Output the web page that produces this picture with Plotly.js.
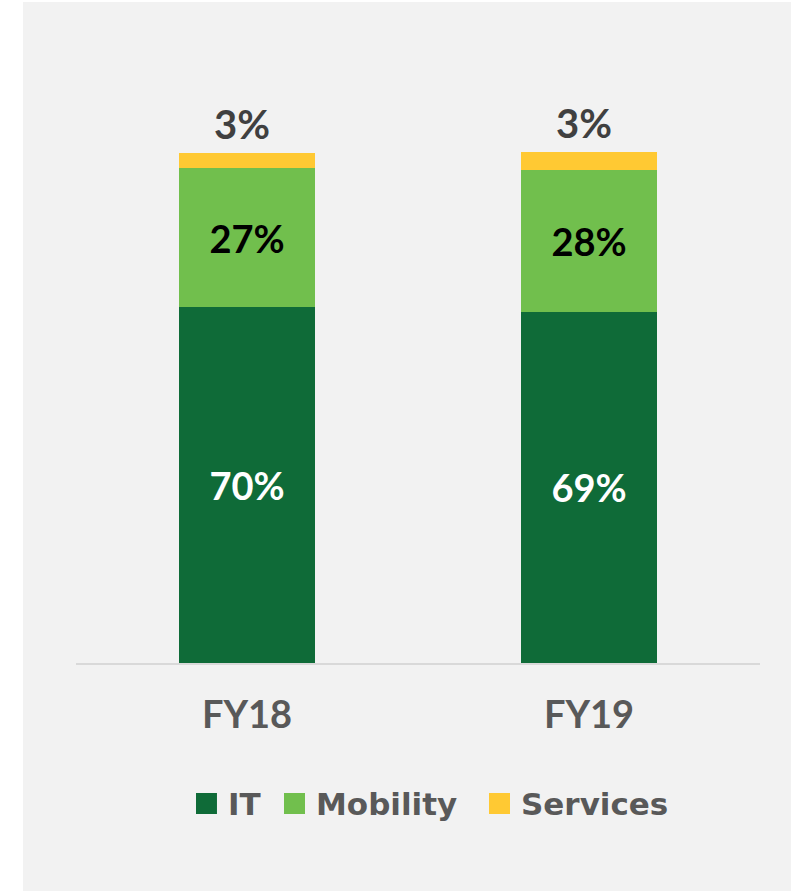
<!DOCTYPE html>
<html>
<head>
<meta charset="utf-8">
<script src="https://cdn.plot.ly/plotly-3.0.1.min.js"></script>
<style>
html,body{margin:0;padding:0;background:#ffffff;}
#chart{position:absolute;left:23px;top:2px;width:768px;height:889px;}
</style>
</head>
<body>
<div id="chart"></div>
<script>
// ---- data ----
var categories = ["FY18", "FY19"];
var seriesNames = ["IT", "Mobility", "Services"];
var itValues = [69.8, 68.9];
var mobilityValues = [27.2, 27.8];
var servicesValues = [3.0, 3.4];
var seriesColors = ["#0f6b38", "#71bf4d", "#ffc933"];

var FONT = "Lato, 'Open Sans', sans-serif";
var LEGFONT = "'DejaVu Sans', sans-serif";

var traces = [
  {type: "bar", name: seriesNames[0], x: categories, y: itValues,
   marker: {color: seriesColors[0]}, texttemplate: "%{y:.0f}%",
   textposition: "inside", insidetextanchor: "middle", constraintext: "none",
   textfont: {family: FONT, size: 38, color: "#ffffff", weight: "bold"},
   showlegend: false, hoverinfo: "skip"},
  {type: "bar", name: seriesNames[1], x: categories, y: mobilityValues,
   marker: {color: seriesColors[1]}, texttemplate: "%{y:.0f}%",
   textposition: "inside", insidetextanchor: "middle", constraintext: "none",
   textfont: {family: FONT, size: 38, color: "#000000", weight: "bold"},
   showlegend: false, hoverinfo: "skip"},
  {type: "bar", name: seriesNames[2], x: categories, y: servicesValues,
   marker: {color: seriesColors[2]}, textposition: "none",
   showlegend: false, hoverinfo: "skip"}
];

// labels above the stacks for Services
var annotations = categories.map(function(c, i){
  return {x: c, y: itValues[i] + mobilityValues[i] + servicesValues[i],
          xref: "x", yref: "y", text: "<b>" + Math.round(servicesValues[i]) + "%</b>",
          showarrow: false, yanchor: "bottom", yshift: 3, xshift: -5,
          font: {family: FONT, size: 40, color: "#404040"}};
});

// legend drawn manually (large squares)
var legendX = [0.1754, 0.3041, 0.6038];
var shapes = [];
for (var k = 0; k < seriesNames.length; k++) {
  shapes.push({type: "rect", xref: "paper", yref: "paper",
    x0: legendX[k], x1: legendX[k] + 0.0307, y0: -0.2317, y1: -0.2692,
    fillcolor: seriesColors[k], line: {width: 0}});
  annotations.push({xref: "paper", yref: "paper", x: legendX[k] + 0.0440, y: -0.2505,
    xanchor: "left", yanchor: "middle", showarrow: false,
    text: "<b>" + seriesNames[k] + "</b>",
    font: {family: LEGFONT, size: 31, color: "#595959"}});
}

var layout = {
  width: 768, height: 889,
  paper_bgcolor: "#f2f2f2", plot_bgcolor: "#f2f2f2",
  margin: {l: 53, r: 31, t: 100, b: 228},
  barmode: "stack", bargap: 0.6,
  showlegend: false,
  xaxis: {showline: true, linecolor: "#d9d9d9", linewidth: 2, ticks: "",
          showgrid: false, zeroline: false, ticklabelstandoff: 17,
          tickfont: {family: FONT, size: 38, color: "#595959", weight: "bold"}},
  yaxis: {range: [0, 110], visible: false, showgrid: false, zeroline: false},
  annotations: annotations,
  shapes: shapes,
  font: {family: FONT}
};

Plotly.newPlot("chart", traces, layout, {displayModeBar: false, staticPlot: true});
</script>
</body>
</html>
